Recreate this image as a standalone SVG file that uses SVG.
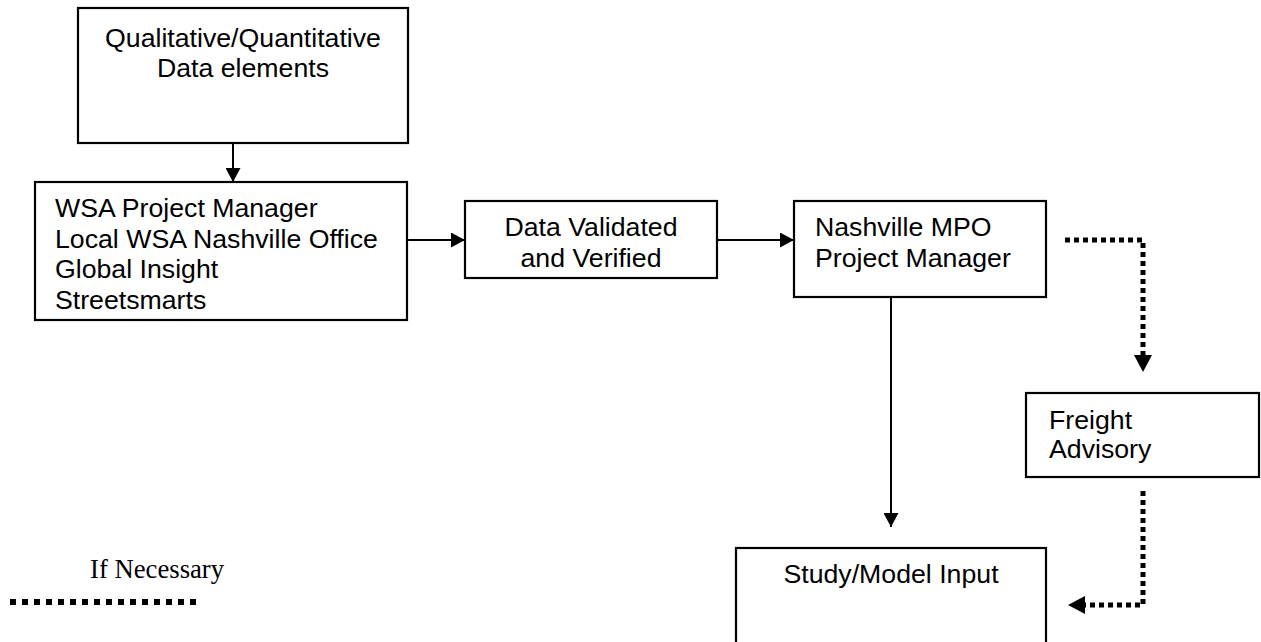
<svg xmlns="http://www.w3.org/2000/svg" width="1261" height="642" viewBox="0 0 1261 642">
<style>
.box{fill:#fff;stroke:#000;stroke-width:2.2}
.t{font-family:"Liberation Sans",Arial,sans-serif;font-size:26.7px;fill:#000}
.c{text-anchor:middle}
.tm{font-family:"Liberation Serif","Times New Roman",serif;font-size:26.7px;fill:#000}
.ln{fill:none;stroke:#000;stroke-width:2}
.dot{fill:none;stroke:#000;stroke-width:5;stroke-dasharray:5 4}
.dotl{fill:none;stroke:#000;stroke-width:6;stroke-dasharray:6 6}
</style>
<defs>
<marker id="ah" markerUnits="userSpaceOnUse" markerWidth="16" markerHeight="15" refX="14" refY="7.5" orient="auto">
<path d="M0,0 L14,7.5 L0,15 Z" fill="#000"/>
</marker>
<marker id="ahd" markerUnits="userSpaceOnUse" markerWidth="19" markerHeight="18" refX="1" refY="9" orient="auto">
<path d="M0,0 L17,9 L0,18 Z" fill="#000"/>
</marker>
</defs>
<rect width="1261" height="642" fill="#fff"/>
<g id="n1">
<rect class="box" x="78" y="8" width="330" height="135"/>
<text class="t c" x="243" y="47">Qualitative/Quantitative</text>
<text class="t c" x="243" y="77">Data elements</text>
</g>
<g id="n2">
<rect class="box" x="35" y="182" width="372" height="138"/>
<text class="t" x="55" y="217">WSA Project Manager</text>
<text class="t" x="55" y="248">Local WSA Nashville Office</text>
<text class="t" x="55" y="278">Global Insight</text>
<text class="t" x="55" y="309">Streetsmarts</text>
</g>
<g id="n3">
<rect class="box" x="465" y="201" width="252" height="77"/>
<text class="t c" x="591" y="236">Data Validated</text>
<text class="t c" x="591" y="267">and Verified</text>
</g>
<g id="n4">
<rect class="box" x="794" y="201" width="252" height="96"/>
<text class="t" x="815" y="236">Nashville MPO</text>
<text class="t" x="815" y="267">Project Manager</text>
</g>
<g id="n5">
<rect class="box" x="1026" y="393" width="233" height="84"/>
<text class="t" x="1049" y="429">Freight</text>
<text class="t" x="1049" y="458">Advisory</text>
</g>
<g id="n6">
<rect class="box" x="736" y="548" width="310" height="100"/>
<text class="t c" x="891" y="583">Study/Model Input</text>
</g>
<g id="legend">
<text class="tm" x="90" y="578">If Necessary</text>
<path class="dotl" d="M10,602 H200"/>
</g>
<g id="connectors">
<path class="ln" d="M233,143 V182" marker-end="url(#ah)"/>
<path class="ln" d="M407,240 H465" marker-end="url(#ah)"/>
<path class="ln" d="M717,240 H794" marker-end="url(#ah)"/>
<path class="ln" d="M891,297 V527" marker-end="url(#ah)"/>
<path class="dot" d="M1065,240 H1143 V356" marker-end="url(#ahd)"/>
<path class="dot" d="M1143,491 V605 H1084" marker-end="url(#ahd)"/>
</g>
</svg>
